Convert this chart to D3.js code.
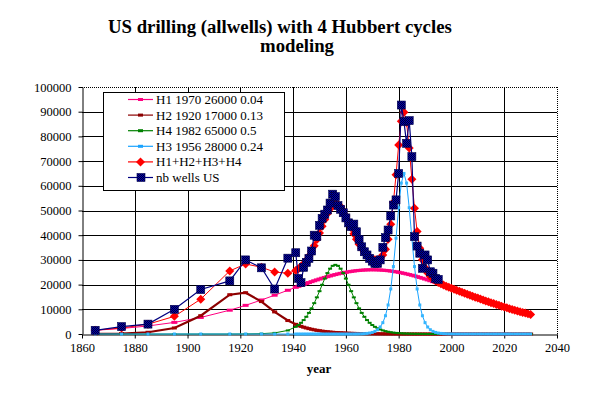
<!DOCTYPE html>
<html><head><meta charset="utf-8">
<script src="https://cdn.jsdelivr.net/npm/d3@7"></script>
<style>body{margin:0;background:#fff}svg{display:block}</style>
</head><body><svg id="c" width="591" height="394"></svg>
<script>
// ---- data ----
const wellYears=[1865,1875,1885,1895,1905,1916,1922,1928,1933,1938,1941,1942,1943,1944,1945,1946,1947,1948,1949,1950,1951,1952,1953,1954,1955,1956,1957,1958,1959,1960,1961,1962,1963,1964,1965,1966,1967,1968,1969,1970,1971,1972,1973,1974,1975,1976,1977,1978,1979,1980,1981,1982,1983,1984,1985,1986,1987,1988,1989,1990,1991,1992,1993,1994,1995];
const wells=[1500,3000,4000,10000,18000,21500,30000,26800,18200,30700,32900,22500,20800,27000,29000,30600,33600,40000,39400,44000,46800,48500,50200,53000,56600,55600,52000,50500,49100,47000,45000,43500,44500,41400,38300,35300,33300,32000,30600,29500,28600,28600,30000,35100,39000,42100,47800,52200,54300,65000,92700,86000,77200,86400,71800,39400,35600,32700,26600,32000,30000,25200,24600,22500,22100];
const modelYears=[1865,1875,1885,1895,1905,1916,1922,1928,1933,1938,1941,1942,1943,1944,1945,1946,1947,1948,1949,1950,1951,1952,1953,1954,1955,1956,1957,1958,1959,1960,1961,1962,1963,1964,1965,1966,1967,1968,1969,1970,1971,1972,1973,1974,1975,1976,1977,1978,1979,1980,1981,1982,1983,1984,1985,1986,1987,1988,1989,1990,1991,1992,1993,1994,1995,1996,1997,1998,1999,2000,2001,2002,2003,2004,2005,2006,2007,2008,2009,2010,2011,2012,2013,2014,2015,2016,2017,2018,2019,2020,2021,2022,2023,2024,2025,2026,2027,2028,2029,2030];
const h1=[1514,2226,3250,4698,6693,9642,11597,13771,15709,17702,18898,19291,19682,20067,20448,20823,21191,21551,21904,22247,22580,22901,23212,23509,23794,24064,24319,24558,24781,24987,25175,25346,25497,25629,25741,25835,25907,25958,25990,26000,25990,25958,25907,25835,25741,25629,25497,25346,25175,24987,24781,24558,24319,24064,23794,23509,23212,22901,22580,22247,21904,21551,21191,20823,20448,20067,19682,19291,18898,18502,18103,17702,17303,16903,16503,16105,15709,15314,14923,14535,14151,13771,13396,13025,12660,12300,11946,11597,11255,10919,10590,10267,9951,9642,9339,9044,8755,8473,8198,7931];
const h2=[53,195,704,2444,7415,15901,16716,13121,8943,5450,3908,3484,3100,2754,2444,2165,1917,1695,1498,1322,1167,1030,907,799,704,619,545,480,422,371,326,287,252,222,195,171,150,132,116,102,90,79,69,61,53,47,41,36,32,28,0,0,0,0,0,0,0,0,0,0,0,0,0,0,0,0,0,0,0,0,0,0,0,0,0,0,0,0,0,0,0,0,0,0,0,0,0,0,0,0,0,0,0,0,0,0,0,0,0,0];
const h3=[0,0,0,0,0,0,32,135,445,1451,2900,3634,4536,5637,6963,8541,10383,12490,14831,17344,19924,22424,24663,26447,27601,28000,27601,26447,24663,22424,19924,17344,14831,12490,10383,8541,6963,5637,4536,3634,2900,2307,1829,1451,1148,907,716,565,445,349,276,217,171,135,106,83,66,52,41,32,0,0,0,0,0,0,0,0,0,0,0,0,0,0,0,0,0,0,0,0,0,0,0,0,0,0,0,0,0,0,0,0,0,0,0,0,0,0,0,0];
const h4=[0,0,0,0,0,0,0,0,0,0,0,0,0,0,0,0,0,0,0,0,0,0,0,0,0,0,0,0,0,0,0,0,19,32,53,87,144,237,390,641,1054,1728,2825,4592,7398,11746,18227,27298,38778,51119,61101,65000,61101,51119,38778,27298,18227,11746,7398,4592,2825,1728,1054,641,390,237,144,87,53,32,0,0,0,0,0,0,0,0,0,0,0,0,0,0,0,0,0,0,0,0,0,0,0,0,0,0,0,0,0,0];
const hSum=[1567,2421,3954,7142,14108,25543,28345,27027,25097,24603,25706,26409,27318,28458,29855,31529,33491,35736,38233,40913,43671,46355,48782,50755,52099,52683,52465,51485,49866,47782,45425,42977,40599,38373,36372,34634,33164,31964,31032,30377,30034,30072,30630,31939,34340,38329,44481,53245,64430,76483,86158,89775,85591,75318,62678,50890,41505,34699,30019,26871,24729,23279,22245,21464,20838,20304,19826,19378,18951,18534,18103,17702,17303,16903,16503,16105,15709,15314,14923,14535,14151,13771,13396,13025,12660,12300,11946,11597,11255,10919,10590,10267,9951,9642,9339,9044,8755,8473,8198,7931];
const xTicks=[1860,1880,1900,1920,1940,1960,1980,2000,2020,2040];
const yTicks=[0,10000,20000,30000,40000,50000,60000,70000,80000,90000,100000];
const legendLabels=["H1 1970 26000 0.04","H2 1920 17000 0.13","H4 1982 65000 0.5","H3 1956 28000 0.24","H1+H2+H3+H4","nb wells US"];
const titleLines=["US drilling (allwells) with 4 Hubbert cycles","modeling"];
const xTitle="year";

// ---- drawing ----
const FONT="'Liberation Serif', 'Times New Roman', serif";
const svg=d3.select("#c");
const x=d3.scaleLinear().domain([1860,2040]).range([82,557]);
const y=d3.scaleLinear().domain([0,100000]).range([334,87]);

const defs=svg.append("defs");
const pat=defs.append("pattern").attr("id","chk").attr("width",2).attr("height",2).attr("patternUnits","userSpaceOnUse");
pat.append("rect").attr("width",2).attr("height",2).attr("fill","#0000b4");
pat.append("rect").attr("width",1).attr("height",1).attr("fill","#000030");
pat.append("rect").attr("x",1).attr("y",1).attr("width",1).attr("height",1).attr("fill","#000030");

// grid
const g=svg.append("g");
yTicks.filter(v=>v>0).forEach(v=>{
  g.append("line").attr("x1",x(1860)).attr("x2",x(2040)).attr("y1",Math.round(y(v))+0.5).attr("y2",Math.round(y(v))+0.5)
   .attr("stroke","#000").attr("stroke-width",1).attr("stroke-dasharray",v===100000?"1,1":null);
});
xTicks.filter(v=>v>1860).forEach(v=>{
  g.append("line").attr("y1",y(0)).attr("y2",y(100000)).attr("x1",Math.round(x(v))+0.5).attr("x2",Math.round(x(v))+0.5)
   .attr("stroke","#000").attr("stroke-width",1).attr("stroke-dasharray",v===2040?"1,1":null);
});

// axes
const ax=svg.append("g").attr("transform",`translate(0,${Math.round(y(0))+0.5})`)
  .call(d3.axisBottom(x).tickValues(xTicks).tickSize(4).tickSizeOuter(0).tickPadding(5).tickFormat(d3.format("d")));
const ay=svg.append("g").attr("transform",`translate(${Math.round(x(1860))+0.5},0)`)
  .call(d3.axisLeft(y).tickValues(yTicks).tickSize(4).tickSizeOuter(0).tickPadding(7).tickFormat(d3.format("d")));
[ax,ay].forEach(a=>{a.attr("font-family",null);a.selectAll("path,line").attr("stroke","#000");a.selectAll("text").attr("fill","#000").style("font-family",FONT).style("font-size","12.5px");});

const line=d3.line().x(d=>x(d[0])).y(d=>y(d[1]));
function series(vals,color,width){
  const pts=modelYears.map((yr,i)=>[yr,vals[i]]);
  svg.append("path").datum(pts).attr("d",line).attr("fill","none").attr("stroke",color).attr("stroke-width",width);
  return pts;
}
function dashMarks(pts,color,w,h){
  svg.append("g").selectAll("rect").data(pts).join("rect")
   .attr("x",d=>x(d[0])-w/2).attr("y",d=>y(d[1])-h/2).attr("width",w).attr("height",h).attr("fill",color);
}
const p1=series(h1,"#ff0080",1); dashMarks(p1,"#ff0080",6,3);
const p2=series(h2,"#8b0000",2.2); dashMarks(p2,"#a00000",5,3);
const p3=series(h3,"#008000",1); dashMarks(p3,"#008000",4,2);
const p4=series(h4,"#1aa3ff",1); dashMarks(p4,"#33b5ff",3,3);
const ps=series(hSum,"#ff0000",1);
const diamondPath="M0,-4.5L4.5,0L0,4.5L-4.5,0Z";
svg.append("g").selectAll("path").data(ps).join("path").attr("d",diamondPath)
  .attr("transform",d=>`translate(${x(d[0])},${y(d[1])})`).attr("fill","#ff0000");
const pw=wellYears.map((yr,i)=>[yr,wells[i]]);
svg.append("path").datum(pw).attr("d",line).attr("fill","none").attr("stroke","#000080").attr("stroke-width",1.2);
svg.append("g").selectAll("rect").data(pw).join("rect")
  .attr("x",d=>x(d[0])-4).attr("y",d=>y(d[1])-4).attr("width",8).attr("height",8)
  .attr("fill","url(#chk)").attr("stroke","#000050").attr("stroke-width",0.6);

// legend
const lg=svg.append("g");
lg.append("rect").attr("x",103.5).attr("y",92.5).attr("width",181).attr("height",98).attr("fill","#fff").attr("stroke","#000");
const lcol=["#ff0080","#8b0000","#008000","#1aa3ff","#ff0000","#000080"];
legendLabels.forEach((t,i)=>{
  const yy=99.5+i*15.6;
  lg.append("line").attr("x1",128).attr("x2",153).attr("y1",yy).attr("y2",yy).attr("stroke",lcol[i]).attr("stroke-width",1.2);
  if(i<4) lg.append("rect").attr("x",138).attr("y",yy-1.5).attr("width",5).attr("height",3).attr("fill",lcol[i]);
  if(i===4) lg.append("path").attr("d",diamondPath).attr("transform",`translate(140.5,${yy})`).attr("fill","#ff0000");
  if(i===5) lg.append("rect").attr("x",137).attr("y",yy-4).attr("width",8).attr("height",8).attr("fill","url(#chk)").attr("stroke","#000050").attr("stroke-width",0.6);
  lg.append("text").attr("x",156).attr("y",yy+4.5).style("font-family",FONT).style("font-size","13px").text(t);
});

// titles
const t1=svg.append("text").attr("x",108).attr("y",33).style("font-family",FONT).style("font-size","17px").style("font-weight","bold").text(titleLines[0]);
const w1=t1.node().getComputedTextLength();
const fs=17*344/w1;
t1.style("font-size",fs+"px");
svg.append("text").attr("x",297).attr("y",52).attr("text-anchor","middle").style("font-family",FONT).style("font-size",fs+"px").style("font-weight","bold").text(titleLines[1]);
svg.append("text").attr("x",319).attr("y",373).attr("text-anchor","middle").style("font-family",FONT).style("font-size","13px").style("font-weight","bold").text(xTitle);
</script></body></html>
